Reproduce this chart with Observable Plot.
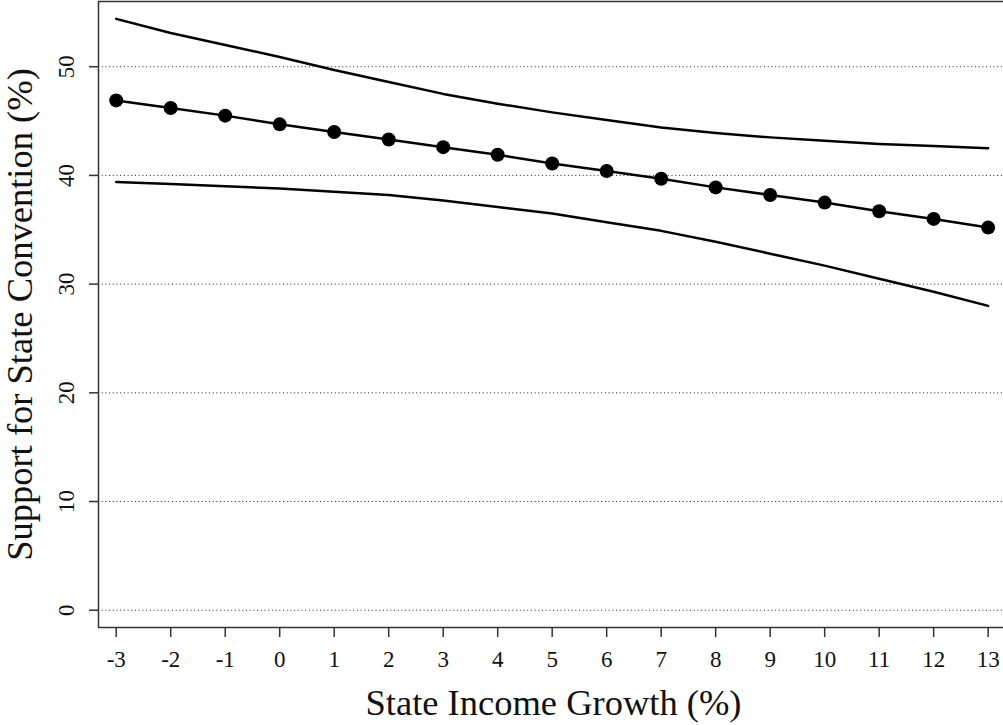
<!DOCTYPE html>
<html>
<head>
<meta charset="utf-8">
<script src="https://cdn.jsdelivr.net/npm/d3@7"></script>
<script src="https://cdn.jsdelivr.net/npm/@observablehq/plot@0.6"></script>
<style>
  html, body { margin: 0; padding: 0; background: #fff; overflow: hidden; }
  #chart svg { display: block; max-width: none !important; }
</style>
</head>
<body>
<div id="chart"></div>
<script>
// Data
const growth   = [-3, -2, -1, 0, 1, 2, 3, 4, 5, 6, 7, 8, 9, 10, 11, 12, 13];
const estimate = [46.9, 46.2, 45.5, 44.7, 44.0, 43.3, 42.6, 41.9, 41.1, 40.4, 39.7, 38.9, 38.2, 37.5, 36.7, 36.0, 35.2];
const upper    = [54.4, 53.1, 52.0, 50.9, 49.7, 48.6, 47.5, 46.6, 45.8, 45.1, 44.4, 43.9, 43.5, 43.2, 42.9, 42.7, 42.5];
const lower    = [39.4, 39.2, 39.0, 38.8, 38.5, 38.2, 37.7, 37.1, 36.5, 35.7, 34.9, 33.9, 32.8, 31.7, 30.5, 29.3, 28.0];
const xTicks   = [-3, -2, -1, 0, 1, 2, 3, 4, 5, 6, 7, 8, 9, 10, 11, 12, 13];
const yTicks   = [0, 10, 20, 30, 40, 50];
const xTitle   = "State Income Growth (%)";
const yTitle   = "Support for State Convention (%)";

const rows = growth.map((g, i) => ({g, est: estimate[i], up: upper[i], lo: lower[i]}));
const font = "'Liberation Serif', 'DejaVu Serif', serif";

const chart = Plot.plot({
  width: 1010,
  height: 725,
  marginLeft: 98,
  marginRight: 0,
  marginTop: 1,
  marginBottom: 98,
  style: {fontFamily: font, background: "#fff", color: "#000"},
  x: {domain: [-3.325, 13.41], axis: null},
  y: {domain: [-1.59, 56.0], axis: null},
  marks: [
    Plot.gridY(yTicks, {stroke: "#222", strokeOpacity: 1, strokeWidth: 1, strokeDasharray: "1,2.7"}),
    Plot.frame({stroke: "#333", strokeWidth: 1.5}),
    Plot.axisX(xTicks, {tickSize: 10, stroke: "#333", strokeWidth: 1.5, tickFormat: () => "", label: null}),
    Plot.axisY(yTicks, {tickSize: 9, stroke: "#333", strokeWidth: 1.5, tickFormat: () => "", label: null}),
    Plot.text(xTicks, {x: d => d, text: d => String(d), frameAnchor: "bottom", dy: 32, lineAnchor: "middle", fontSize: 23, fill: "#111"}),
    Plot.text(yTicks, {y: d => d, text: d => String(d), frameAnchor: "left", dx: -32, rotate: -90, textAnchor: "middle", lineAnchor: "middle", fontSize: 23, fill: "#111"}),
    Plot.text([xTitle], {frameAnchor: "bottom", dy: 76, lineAnchor: "middle", fontSize: 36.5, fill: "#111", dx: -1}),
    Plot.text([yTitle], {frameAnchor: "left", dx: -78, rotate: -90, textAnchor: "middle", lineAnchor: "middle", fontSize: 36.5, fill: "#111"}),
    Plot.line(rows, {x: "g", y: "up", stroke: "#000", strokeWidth: 2.5}),
    Plot.line(rows, {x: "g", y: "lo", stroke: "#000", strokeWidth: 2.5}),
    Plot.line(rows, {x: "g", y: "est", stroke: "#000", strokeWidth: 2.5}),
    Plot.dot(rows, {x: "g", y: "est", r: 7, fill: "#000", stroke: "none"})
  ]
});
document.getElementById("chart").appendChild(chart);
</script>
</body>
</html>
